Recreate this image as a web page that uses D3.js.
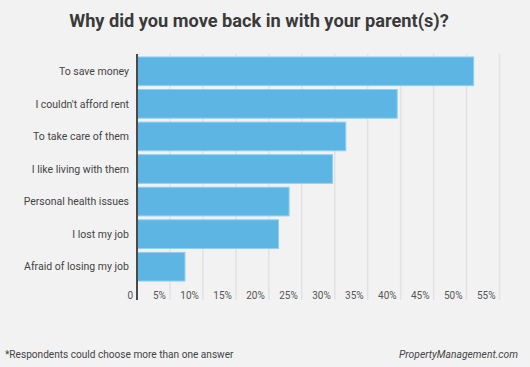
<!DOCTYPE html>
<html>
<head>
<meta charset="utf-8">
<script src="https://cdn.jsdelivr.net/npm/d3@7"></script>
<style>
  body { margin: 0; background: #f2f2f2; }
  svg { display: block; font-family: Roboto, sans-serif; }
</style>
</head>
<body>
<svg width="530" height="367"></svg>
<script>
var categories = ["To save money", "I couldn't afford rent", "To take care of them",
    "I like living with them", "Personal health issues", "I lost my job", "Afraid of losing my job"];
var values = [51, 39.4, 31.6, 29.6, 23, 21.4, 7.2];
var ticks = [0, 5, 10, 15, 20, 25, 30, 35, 40, 45, 50, 55];

var svg = d3.select("svg");

svg.append("rect").attr("width", 530).attr("height", 367).attr("fill", "#f2f2f2");

svg.append("text")
    .attr("x", 259).attr("y", 26.5)
    .attr("text-anchor", "middle")
    .attr("font-size", "18.2px")
    .attr("font-weight", "bold")
    .attr("fill", "#3a3a3a")
    .text("Why did you move back in with your parent(s)?");

var x = d3.scaleLinear().domain([0, 55]).range([137, 499.5]);
var y = d3.scaleBand().domain(categories).range([55, 283]).paddingInner(0.12).paddingOuter(0.06);

var gridTop = 54, gridBottom = 300;

// gridlines
svg.append("g").selectAll("line")
    .data(ticks.slice(1))
    .enter().append("line")
    .attr("x1", function(d){ return x(d); })
    .attr("x2", function(d){ return x(d); })
    .attr("y1", gridTop).attr("y2", gridBottom)
    .attr("stroke", "#e2e2e2")
    .attr("stroke-width", 1.5);

// tick labels
svg.append("g").selectAll("text")
    .data(ticks)
    .enter().append("text")
    .attr("x", function(d){ return x(d) - 4; })
    .attr("y", 299)
    .attr("text-anchor", "end")
    .attr("font-size", "10px")
    .attr("fill", "#555")
    .text(function(d){ return d === 0 ? "0" : d + "%"; });

// bars
svg.append("g").selectAll("rect")
    .data(values)
    .enter().append("rect")
    .attr("x", x(0) + 0.5)
    .attr("y", function(d, i){ return y(categories[i]); })
    .attr("width", function(d){ return x(d) - x(0); })
    .attr("height", y.bandwidth())
    .attr("fill", "#5db5e4")
    .attr("stroke", "#8fd0f3")
    .attr("stroke-width", 1);

// category labels
svg.append("g").selectAll("text")
    .data(categories)
    .enter().append("text")
    .attr("x", 129)
    .attr("y", function(d){ return y(d) + y.bandwidth() / 2; })
    .attr("dy", "0.35em")
    .attr("text-anchor", "end")
    .attr("font-size", "10.5px")
    .attr("fill", "#444")
    .text(function(d){ return d; });

// axis line
svg.append("line")
    .attr("x1", x(0)).attr("x2", x(0))
    .attr("y1", gridTop).attr("y2", gridBottom)
    .attr("stroke", "#4a4a4a")
    .attr("stroke-width", 2);

svg.append("text")
    .attr("x", 5).attr("y", 358)
    .attr("font-size", "10.1px")
    .attr("fill", "#444")
    .text("*Respondents could choose more than one answer");

svg.append("text")
    .attr("x", 518).attr("y", 358)
    .attr("text-anchor", "end")
    .attr("font-size", "10.3px")
    .attr("font-style", "italic")
    .attr("fill", "#444")
    .text("PropertyManagement.com");
</script>
</body>
</html>
